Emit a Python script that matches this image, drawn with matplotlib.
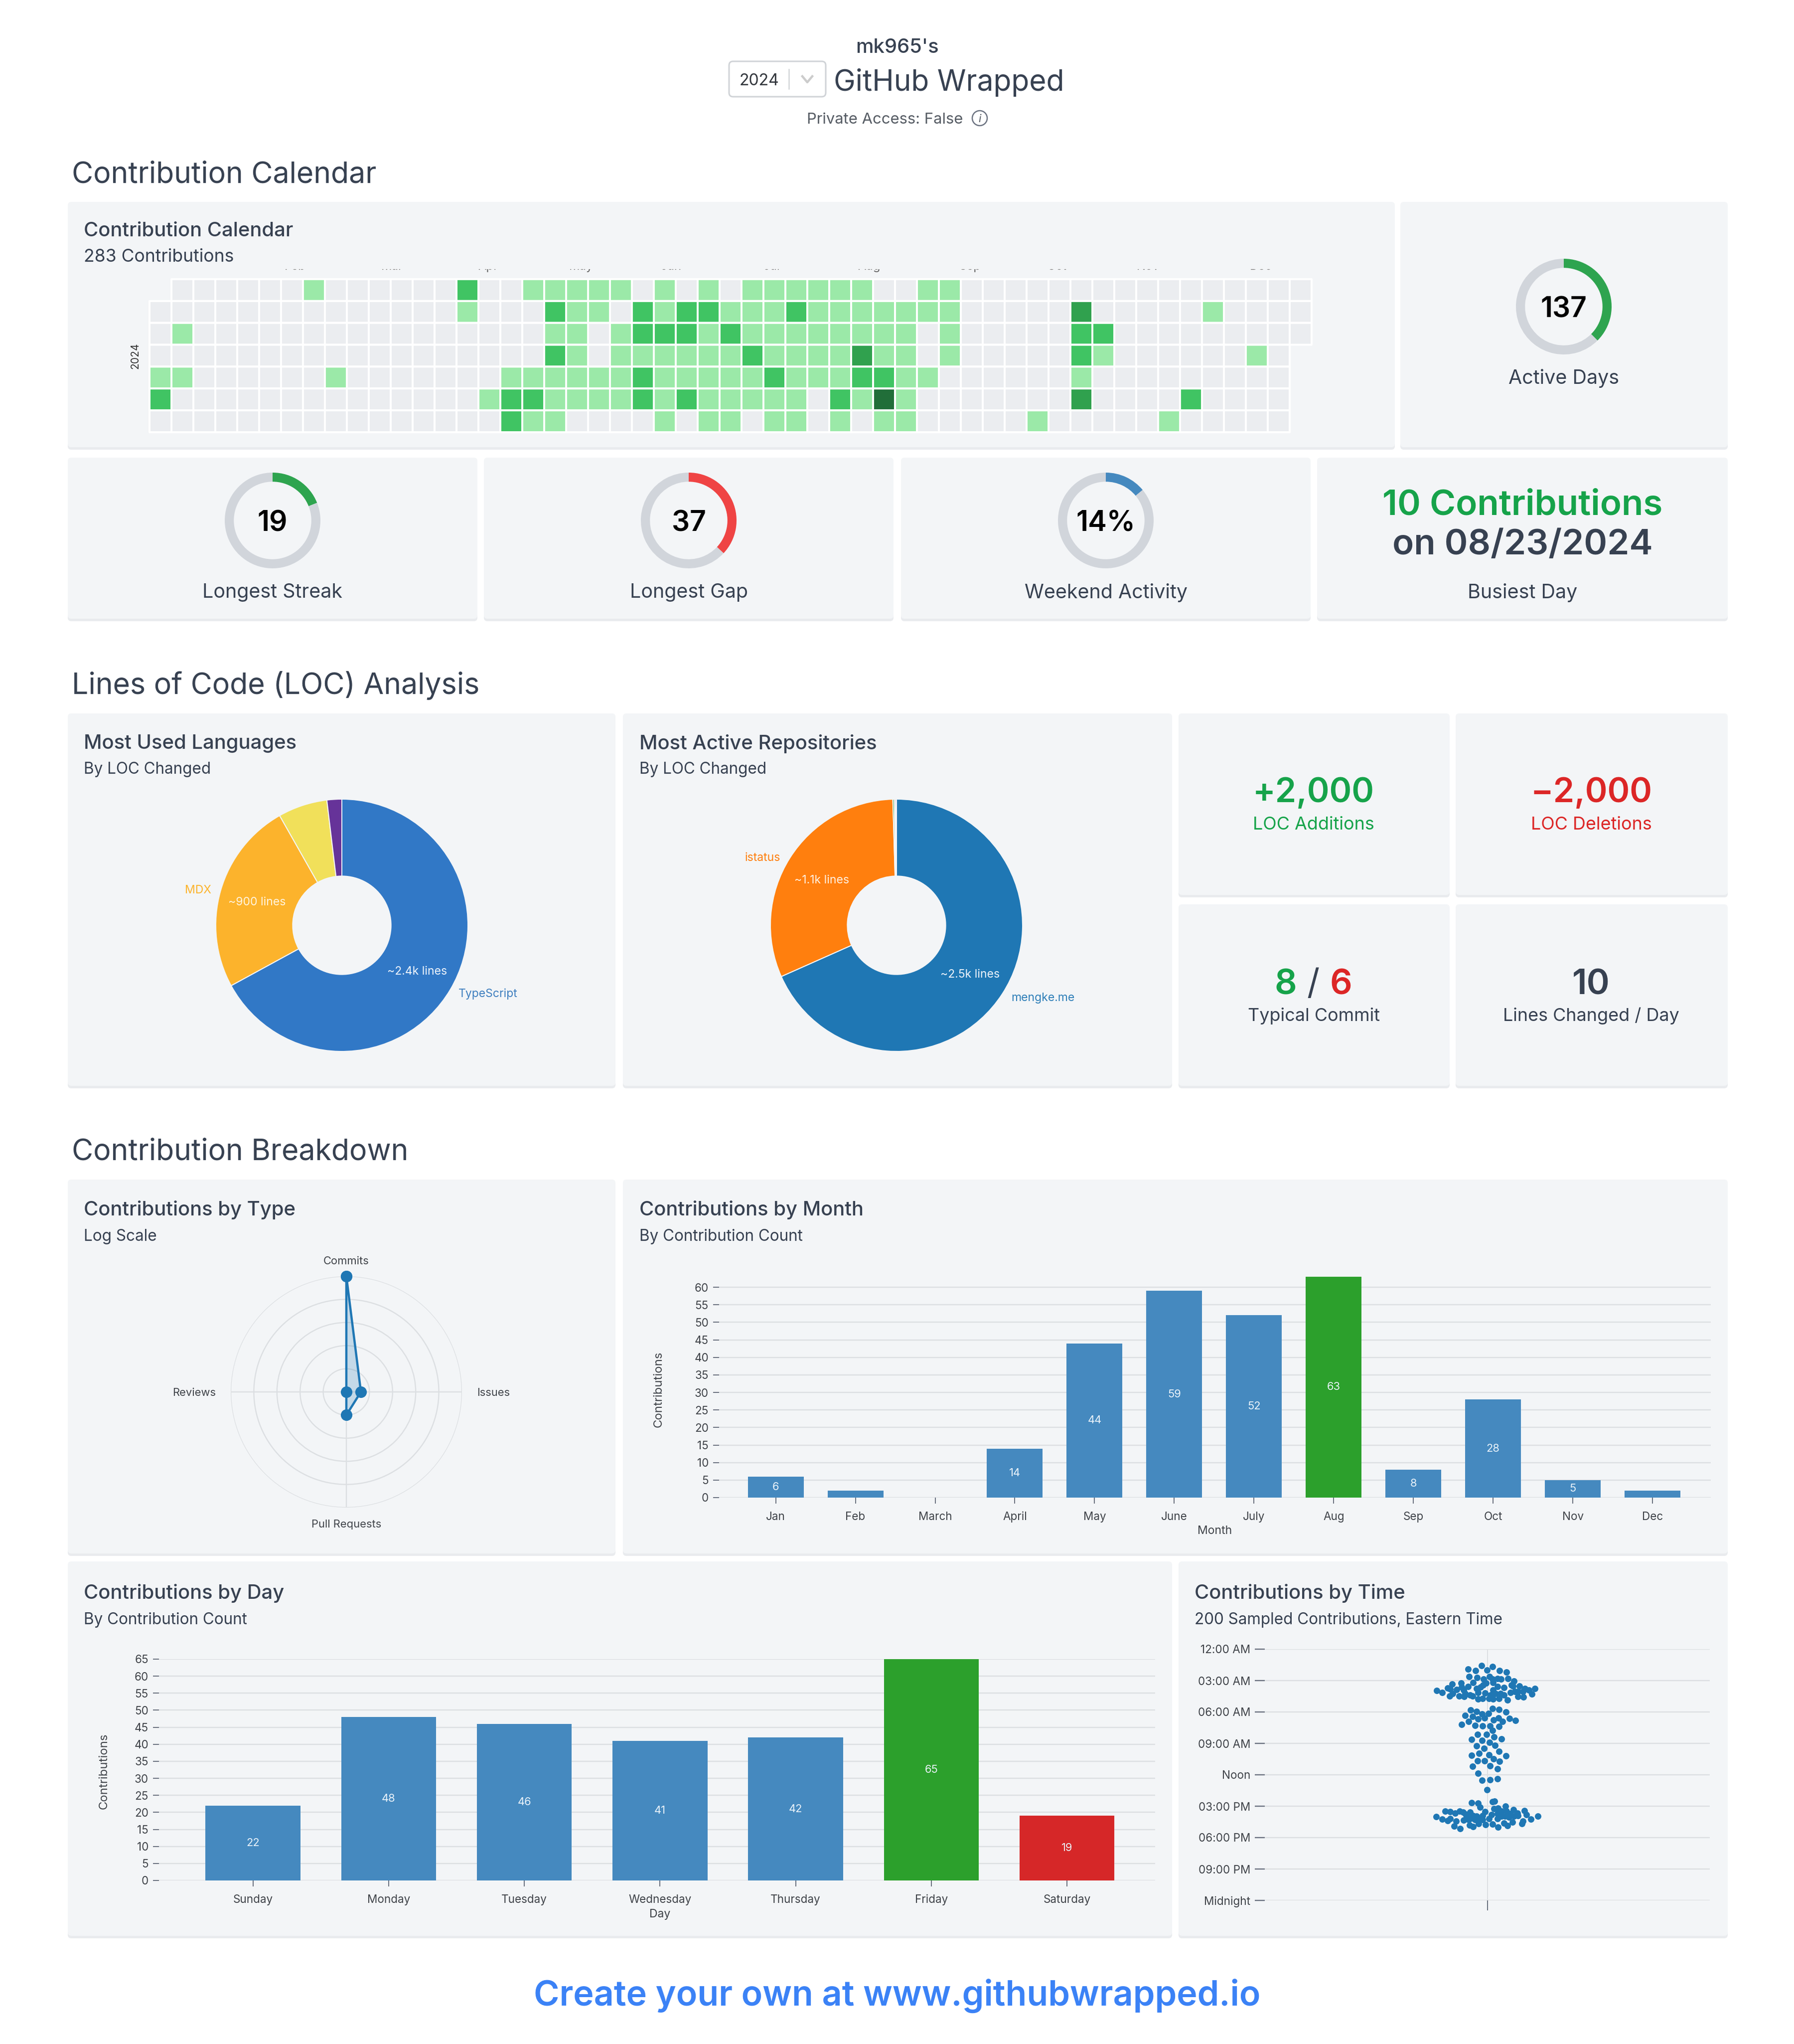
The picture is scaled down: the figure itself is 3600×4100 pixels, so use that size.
"""GitHub Wrapped dashboard."""

from __future__ import annotations

import numpy as np
from matplotlib import pyplot as plt
from matplotlib.colors import BoundaryNorm, ListedColormap
from matplotlib.patches import Circle, FancyBboxPatch

W, H = 3600, 4100
FONT = ["Inter", "Noto Sans", "DejaVu Sans"]
plt.rcParams["font.family"] = FONT

PANEL = "#f3f5f7"
DARK = "#374151"
GREEN = "#16a34a"
RED = "#dc2626"
GRID = "#dcdfe2"
BAR = "#4589bf"
AXIS_TEXT = "#3f4349"

# calendar levels, one string per weekday, blank = no cell
calendar_rows = [
	" 000000100000020011111010" "1011111100110000000000000000",
	"0000000000000010002110212" "2111211111110000030000010000",
	"0100000000000000001101222" "1211111111010000022000000000",
	"0000000000000000002101111" "112111131101000002100000010 ",
	"1100000010000000111111211" "111211122110000001000000000 ",
	"2000000000000001221111212" "111110214100000003000020000 ",
	"0000000000000000211000010" "110110101100000100000100000 ",
]
# January's clipped label is lost under the subtitle
calendar_months = ["Feb", "Mar", "Apr", "May", "Jun", "Jul", "Aug", "Sep", "Oct", "Nov", "Dec"]
calendar_colors = ["#ebedf0", "#9be9a8", "#40c463", "#30a14e", "#216e39"]

gauge_labels = ["Active Days", "Longest Streak", "Longest Gap", "Weekend Activity"]
gauge_texts = ["137", "19", "37", "14%"]
gauge_values = [137, 19, 37, 14]
gauge_totals = [365, 100, 100, 100]
gauge_colors = ["#2ea44f", "#2ea44f", "#ef4444", "#4589bf"]

language_values = [2400, 885, 226, 68]
language_colors = ["#3178c6", "#fcb32c", "#f1e05a", "#663399"]
repo_values = [2500, 1141, 7, 5, 5]
repo_colors = ["#1f77b4", "#ff7f0e", "#2ca02c", "#d62728", "#9467bd"]

radar_labels = ["Commits", "Issues", "Pull Requests", "Reviews"]
radar_values = [5.0, 0.63, 1.0, 0.0]

months = ["Jan", "Feb", "March", "April", "May", "June", "July", "Aug", "Sep", "Oct", "Nov", "Dec"]
month_counts = [6, 2, 0, 14, 44, 59, 52, 63, 8, 28, 5, 2]
days = ["Sunday", "Monday", "Tuesday", "Wednesday", "Thursday", "Friday", "Saturday"]
day_counts = [22, 48, 46, 41, 42, 65, 19]

time_ticks = [0, 3, 6, 9, 12, 15, 18, 21, 24]
time_labels = ["12:00 AM", "03:00 AM", "06:00 AM", "09:00 AM", "Noon", "03:00 PM", "06:00 PM", "09:00 PM", "Midnight"]
swarm_hours = [
	1.89, 2.03, 1.57, 1.98, 1.68, 2.05, 2.21, 2.60, 2.71, 2.84, 2.64, 2.84, 2.79, 2.87, 2.79, 3.19, 3.06,
	3.24, 3.33, 3.22, 3.43, 3.19, 3.94, 4.14, 3.70, 3.83, 3.86, 4.46, 4.22, 4.46, 3.64, 3.91, 3.59, 4.22,
	4.54, 4.38, 4.46, 3.75, 4.14, 3.64, 4.78, 4.70, 4.18, 4.70, 4.38, 4.78, 3.91, 3.59, 4.22, 4.70, 3.67,
	4.22, 4.38, 4.86, 3.43, 4.14, 4.06, 3.54, 3.51, 4.54, 4.57, 3.75, 3.91, 4.30, 3.78, 4.06, 4.06,
	5.81, 5.95, 6.17, 6.15, 5.69, 5.75, 6.01, 6.32, 6.42, 6.68, 6.56, 6.74, 6.56, 6.90, 6.60, 6.80, 7.17,
	6.92, 7.29, 7.35, 7.33, 7.37, 7.77, 8.14, 8.14, 8.36, 8.58, 8.64, 8.72, 8.91, 9.23, 9.47, 9.21, 9.76,
	10.12, 9.94, 10.08, 10.18, 10.67, 10.69, 10.49, 10.71, 11.19, 11.13, 11.42, 11.88, 12.51, 12.47, 12.39, 13.44,
	14.67, 14.73, 15.10, 14.57, 14.54, 15.26, 15.21, 14.98, 15.41, 15.33, 15.49, 15.52, 15.68, 15.49, 15.57,
	15.57, 15.78, 15.89, 15.94, 15.52, 15.89, 15.81, 15.73, 15.49, 15.49, 15.73, 15.65, 15.81, 16.02, 16.24,
	16.37, 16.21, 16.44, 16.89, 17.16, 16.32, 16.29, 16.79, 16.95, 16.68, 16.29, 16.76, 16.21, 16.73, 17.00,
	16.21, 16.64, 16.84, 15.97, 16.52, 15.97, 15.89, 16.44, 16.68, 16.25, 15.97, 16.29, 16.13, 16.29, 15.97,
	16.05, 15.97,
]
swarm_offsets = [
	-38.3, -24.0, -12.0, -1.0, 10.7, 24.3, 38.7, -36.7, -20.3, -7.3, 4.0, 10.7, 20.0, 27.7, 41.3, -29.0, 53.3,
	-53.0, -70.7, -2.3, -8.3, 11.7, -101.7, -91.0, -80.0, -75.0, -61.7, -75.7, -70.0, -56.7, -51.7, -47.7, -38.3, -45.0,
	-46.7, -35.0, -30.0, -21.7, -18.3, -13.3, -18.3, -10.0, -4.3, 3.3, 6.7, 11.0, 11.0, 20.0, 16.7, 23.3, 33.3,
	26.7, 33.3, 40.7, 48.3, 46.7, 55.0, 51.7, 64.3, 61.7, 72.7, 75.0, 83.3, 89.3, 95.0, 61.7, 71.7,
	-33.2, -21.7, -10.8, 2.6, 10.8, 23.6, 37.0, -44.7, -29.3, -18.5, -5.1, 12.8, 22.3, 30.6, 44.0, 56.8, -51.7,
	-37.6, -24.2, -9.6, 5.1, 23.0, 10.2, -19.1, -1.9, 13.4, 28.7, -31.9, -10.8, 4.5, -21.7, -6.4, 15.3, 23.0,
	-31.3, -16.6, 3.2, 37.0, -19.8, -5.1, 12.8, 24.9, -29.3, 5.7, 20.4, -18.5, -10.2, 5.7, 20.4, -0.6,
	-31.7, -19.0, -15.0, 10.0, 14.3, 13.3, 21.7, 36.3, 74.3, 52.7, -84.3, -74.3, -65.0, -55.7, -49.0,
	-35.0, -43.3, -28.3, -21.7, -5.0, -10.0, 8.3, 20.0, 28.3, 38.3, 45.0, 60.0, 78.3, -103.0, -90.7,
	-80.0, -74.3, -62.3, -66.7, -55.0, -47.7, -37.7, -35.7, -29.0, -17.7, -10.0, -3.3, 3.3, 10.0, 21.0,
	20.0, 33.3, 40.0, 35.0, 50.0, 53.3, 61.0, 71.7, 69.3, 87.7, 101.7, -25.0, -31.7, -18.3, 28.3,
	43.3, -41.7,
]


def pt(px: float) -> float:
	return px * 72 / 300


fig = plt.figure(figsize=(W / 300, H / 300), dpi=300, facecolor="white")


def px_axes(x0, y0, x1, y1, **kwargs):
	ax = fig.add_axes([x0 / W, 1 - y1 / H, (x1 - x0) / W, (y1 - y0) / H], **kwargs)
	ax.patch.set_alpha(0)
	return ax


bg = px_axes(0, 0, W, H, zorder=0)
bg.set_xlim(0, W)
bg.set_ylim(H, 0)
bg.axis("off")
top = px_axes(0, 0, W, H, zorder=10)
top.set_xlim(0, W)
top.set_ylim(H, 0)
top.axis("off")


def label(x, y, s, size, color=DARK, ha="center", weight="normal", **kwargs):
	# va=center sits a bit high against the reference, so nudge by font size
	return top.text(x, y + size * 0.1, s, fontsize=pt(size), color=color, ha=ha, va="center", fontweight=weight, **kwargs)


def panel(x0, y0, x1, y1):
	shadow = FancyBboxPatch((x0, y0 + 5), x1 - x0, y1 - y0, boxstyle="round,pad=0,rounding_size=7", fc="#e9ebee", ec="none")
	bg.add_patch(shadow)
	bg.add_patch(FancyBboxPatch((x0, y0), x1 - x0, y1 - y0, boxstyle="round,pad=0,rounding_size=7", fc=PANEL, ec="none"))


def card_title(x, y, title, sub, sub_size=31.5, sub_gap=52):
	label(x, y, title, 40, ha="left", weight="medium")
	label(x, y + sub_gap, sub, sub_size, ha="left")


def gauge(cx, cy, idx, label_y):
	r = 96
	ax = px_axes(cx - r, cy - r, cx + r, cy + r)
	val, total = gauge_values[idx], gauge_totals[idx]
	ax.pie(
		[val, total - val],
		colors=[gauge_colors[idx], "#d1d5db"],
		startangle=90,
		counterclock=False,
		radius=1,
		wedgeprops={"width": 0.19},
	)
	ax.set_xlim(-1, 1)
	ax.set_ylim(-1, 1)
	label(cx, cy + 1, gauge_texts[idx], 57, color="black", weight="semibold")
	label(cx, label_y, gauge_labels[idx], 39.5)


def bar_chart(x0, y0, x1, y1, names, counts, xlim, ymax_tick, max_i, min_i=None):
	ax = px_axes(x0, y0, x1, y1)
	colors = [BAR] * len(counts)
	colors[max_i] = "#2ca02c"
	if min_i is not None:
		colors[min_i] = "#d62728"
	pos = np.arange(len(counts))
	bars = ax.bar(pos, counts, width=0.7, color=colors, zorder=3)
	ax.bar_label(
		bars,
		labels=[str(c) if c > 2 else "" for c in counts],
		label_type="center",
		color="#eaf3fa",
		fontsize=pt(22),
	)
	ax.set_xlim(*xlim)
	ax.set_ylim(0, max(counts))
	ax.set_yticks(range(0, ymax_tick + 1, 5))
	ax.set_xticks(pos, names)
	ax.grid(axis="y", color=GRID, linewidth=pt(2.4), zorder=1)
	ax.set_axisbelow(True)
	ax.tick_params(axis="both", length=pt(12), width=pt(2), color="#6b7280", labelsize=pt(22.5), labelcolor=AXIS_TEXT, pad=pt(9))
	ax.tick_params(axis="x", pad=pt(16))
	for spine in ax.spines.values():
		spine.set_visible(False)
	return ax


def draw_header():
	label(1800, 92, "mk965's", 40, weight="medium")
	label(1673, 160, "GitHub Wrapped", 58.7, ha="left")
	box = FancyBboxPatch((1463, 123), 194, 71, boxstyle="round,pad=0,rounding_size=8", fc="white", ec="#d0d3d7", lw=pt(3))
	bg.add_patch(box)
	label(1523, 159, "2024", 32, color="#33373d")
	bg.plot([1583, 1583], [139, 178], color="#d4d6d9", lw=pt(2.5))
	bg.plot([1610, 1620, 1630], [153, 165, 153], color="#cccccc", lw=pt(4.5))
	label(1776, 237, "Private Access: False", 31, color="#565c64")
	bg.add_patch(Circle((1966, 237), 15, fc="none", ec="#6b7280", lw=pt(2.5)))
	label(1966, 237, "i", 22, color="#565c64", style="italic")


def draw_calendar():
	label(144, 345, "Contribution Calendar", 59, ha="left")
	panel(136, 405, 2799, 897)
	card_title(168, 460, "Contribution Calendar", "283 Contributions", 35.5)

	# only the bottoms of the month names survive the clipping in the card
	strip = px_axes(300, 540, 2632, 552)
	strip.set_xlim(300, 2632)
	strip.set_ylim(552, 540)
	strip.axis("off")
	month_x = [592, 787, 980, 1166, 1347, 1549, 1744, 1947, 2121, 2304, 2530]
	for name, x in zip(calendar_months, month_x):
		strip.text(x, 541, name, fontsize=pt(24), ha="center", va="baseline", color="#666666", clip_on=True)

	levels = np.ma.masked_less(
		np.array([[-1 if c == " " else int(c) for c in row] for row in calendar_rows]), 0
	)
	ax = px_axes(300, 560, 2632, 867)
	cmap = ListedColormap(calendar_colors)
	# pcolor rather than pcolormesh, it drops the masked cells with their edges
	ax.pcolor(
		np.arange(levels.shape[1] + 1),
		np.arange(levels.shape[0] + 1),
		levels,
		cmap=cmap,
		norm=BoundaryNorm(np.arange(-0.5, 5), cmap.N),
		edgecolors="white",
		linewidth=pt(4),
		clip_on=False,
	)
	ax.set_ylim(levels.shape[0], 0)
	ax.axis("off")
	label(271, 712, "2024", 21, color="#333333", rotation=90)

	panel(2810, 405, 3467, 897)
	gauge(3138, 615, 0, 755)

	for (x0, x1), idx in zip([(136, 958), (971, 1793), (1808, 2630)], [1, 2, 3]):
		panel(x0, 918, x1, 1241)
		gauge((x0 + x1) / 2, 1044, idx, 1185)
	panel(2643, 918, 3467, 1241)
	label(3055, 1007, "10 Contributions", 71, color=GREEN, weight="semibold")
	label(3055, 1086, "on 08/23/2024", 71, weight="semibold")
	label(3055, 1185, "Busiest Day", 39.5)


def donut(cx, cy, values, colors):
	r = 253
	ax = px_axes(cx - r, cy - r, cx + r, cy + r)
	ax.pie(
		values,
		colors=colors,
		startangle=90,
		counterclock=False,
		radius=1,
		wedgeprops={"width": 0.61, "edgecolor": PANEL, "linewidth": pt(2)},
	)
	ax.set_xlim(-1, 1)
	ax.set_ylim(-1, 1)


def draw_loc():
	label(144, 1369, "Lines of Code (LOC) Analysis", 59, ha="left")
	panel(136, 1431, 1235, 2178)
	card_title(168, 1488, "Most Used Languages", "By LOC Changed")
	donut(686, 1856, language_values, language_colors)
	label(837, 1947, "~2.4k lines", 23, color="#eef4fb")
	label(979, 1991, "TypeScript", 23, color="#3f7fbf")
	label(397, 1784, "MDX", 23, color="#fcb32c")
	label(516, 1808, "~900 lines", 23, color="#fff4de")

	panel(1250, 1431, 2352, 2178)
	card_title(1283, 1488, "Most Active Repositories", "By LOC Changed")
	donut(1799, 1856, repo_values, repo_colors)
	label(1947, 1953, "~2.5k lines", 23, color="#eef4fb")
	label(2093, 2000, "mengke.me", 23, color="#2f7fb8")
	label(1530, 1719, "istatus", 23, color="#ff7f0e")
	label(1649, 1764, "~1.1k lines", 23, color="#fff0e0")

	panel(2365, 1431, 2909, 1795)
	panel(2921, 1431, 3467, 1795)
	panel(2365, 1814, 2909, 2178)
	panel(2921, 1814, 3467, 2178)
	label(2636, 1584, "+2,000", 68, color=GREEN, weight="semibold")
	label(2636, 1651, "LOC Additions", 36, color=GREEN)
	label(3193, 1584, "\u22122,000", 68, color=RED, weight="semibold")
	label(3193, 1651, "LOC Deletions", 36, color=RED)
	label(2580, 1969, "8", 70, color=GREEN, weight="semibold")
	label(2635, 1969, "/", 70, weight="normal")
	label(2691, 1969, "6", 70, color=RED, weight="semibold")
	label(2636, 2034, "Typical Commit", 36)
	label(3193, 1969, "10", 70, weight="semibold")
	label(3193, 2034, "Lines Changed / Day", 36)


def draw_radar():
	panel(136, 2366, 1235, 3116)
	card_title(168, 2423, "Contributions by Type", "Log Scale", sub_gap=54)
	cx, cy, r = 695, 2792, 232
	ax = px_axes(cx - r, cy - r, cx + r, cy + r, projection="polar")
	theta = np.deg2rad([0, 90, 180, 270])
	ax.set_theta_zero_location("N")
	ax.set_theta_direction(-1)
	ax.set_ylim(0, 5)
	ax.set_xticks(theta)
	ax.set_yticks([1, 2, 3, 4, 5])
	ax.set_xticklabels([])
	ax.set_yticklabels([])
	ax.grid(color="#dcdfe2", linewidth=pt(2.4))
	ax.spines["polar"].set_visible(False)
	closed_t = np.append(theta, theta[0])
	closed_v = np.append(radar_values, radar_values[0])
	ax.fill(closed_t, closed_v, color="#1f77b4", alpha=0.22, lw=0, zorder=3, clip_on=False)
	ax.plot(closed_t, closed_v, color="#1f77b4", lw=pt(4.5), marker="o", ms=pt(19), zorder=4, clip_on=False)
	label(695, 2528, radar_labels[0], 22, color=AXIS_TEXT)
	label(990, 2792, radar_labels[1], 22, color=AXIS_TEXT)
	label(695, 3056, radar_labels[2], 22, color=AXIS_TEXT)
	label(390, 2792, radar_labels[3], 22, color=AXIS_TEXT)


def draw_breakdown():
	label(144, 2305, "Contribution Breakdown", 59, ha="left")
	draw_radar()

	panel(1250, 2366, 3467, 3116)
	card_title(1283, 2423, "Contributions by Month", "By Contribution Count", sub_gap=54)
	bar_chart(1443, 2561, 3433, 3004, months, month_counts, (-0.71, 11.73), 60, 7)
	label(1322, 2784, "Contributions", 24, color=AXIS_TEXT, rotation=90)
	label(2438, 3069, "Month", 23, color=AXIS_TEXT)

	panel(136, 3132, 2352, 3883)
	card_title(168, 3192, "Contributions by Day", "By Contribution Count", sub_gap=54)
	bar_chart(319, 3328, 2318, 3772, days, day_counts, (-0.693, 6.65), 65, 5, 6)
	label(209, 3550, "Contributions", 24, color=AXIS_TEXT, rotation=90)
	label(1324, 3838, "Day", 23, color=AXIS_TEXT)

	panel(2365, 3132, 3467, 3883)
	card_title(2397, 3192, "Contributions by Time", "200 Sampled Contributions, Eastern Time", sub_gap=54)
	ax = px_axes(2538, 3308, 3431, 3812)
	ax.axvline(0, color="#dcdfe2", lw=pt(2), zorder=1)
	ax.scatter(swarm_offsets, swarm_hours, s=pt(13) ** 2, color="#1f77b4", linewidths=0, zorder=3)
	ax.set_xlim(-446.5, 446.5)
	ax.set_ylim(24, 0)
	ax.set_yticks(time_ticks, time_labels)
	ax.set_xticks([0], [""])
	ax.grid(axis="y", color=GRID, linewidth=pt(2.4), zorder=1)
	ax.tick_params(axis="y", length=pt(20), width=pt(2.4), color="#6b7280", labelsize=pt(22.5), labelcolor=AXIS_TEXT, pad=pt(9))
	ax.tick_params(axis="x", length=pt(20), width=pt(2), color="#6b7280")
	for spine in ax.spines.values():
		spine.set_visible(False)


draw_header()
draw_calendar()
draw_loc()
draw_breakdown()
label(1800, 3996, "Create your own at www.githubwrapped.io", 70, color="#3b82f6", weight="semibold")

fig.savefig("out.png", dpi=300, facecolor="white")
